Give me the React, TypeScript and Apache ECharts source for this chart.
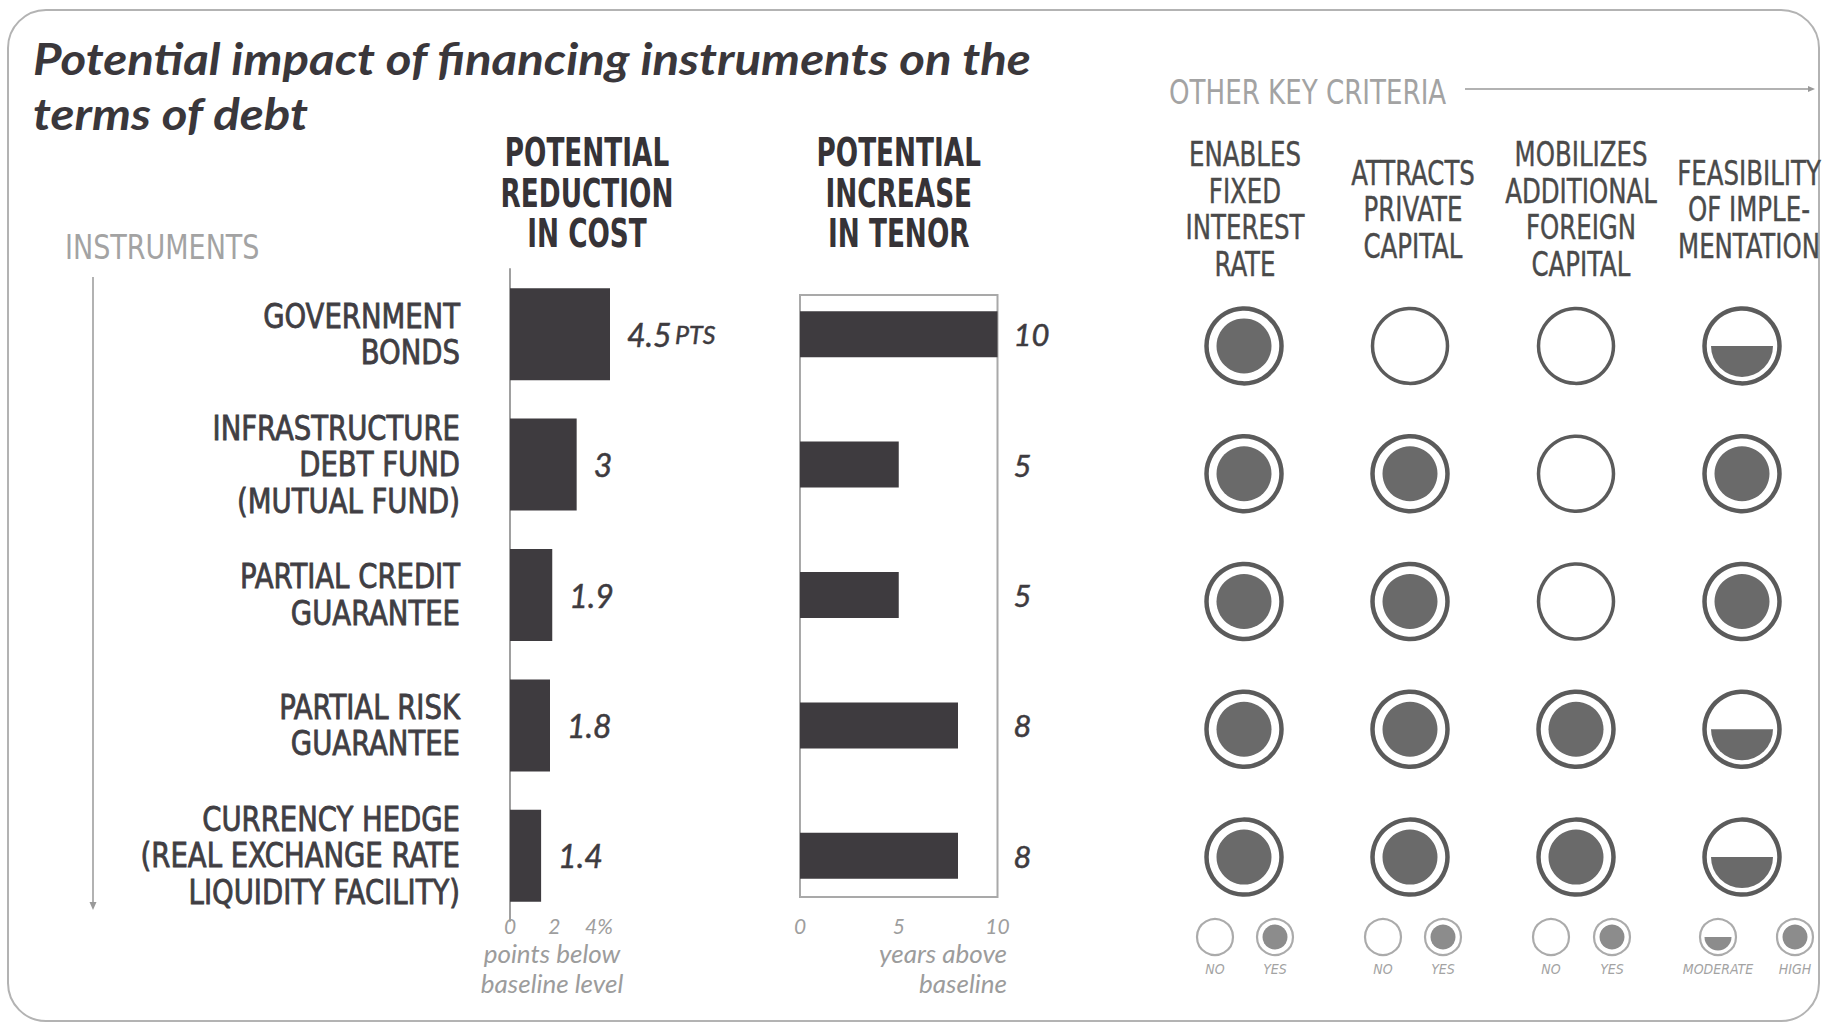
import React, { useEffect, useRef } from 'react';
import * as echarts from 'echarts';

// ---------------- data ----------------
const titleText = 'Potential impact of financing instruments on the\nterms of debt';
const instruments = [
  'GOVERNMENT\nBONDS',
  'INFRASTRUCTURE\nDEBT FUND\n(MUTUAL FUND)',
  'PARTIAL CREDIT\nGUARANTEE',
  'PARTIAL RISK\nGUARANTEE',
  'CURRENCY HEDGE\n(REAL EXCHANGE RATE\nLIQUIDITY FACILITY)',
];
const costReduction = [4.5, 3, 1.9, 1.8, 1.4];
const costUnit = 'PTS';
const tenorIncrease = [10, 5, 5, 8, 8];
const costAxisTicks = [0, 2, 4];
const costTickSuffix = '%';
const costHeader = 'POTENTIAL\nREDUCTION\nIN COST';
const tenorHeader = 'POTENTIAL\nINCREASE\nIN TENOR';
const costAxisName = 'points below\nbaseline level';
const tenorAxisName = 'years above\nbaseline';
const instrumentsLabel = 'INSTRUMENTS';
const criteriaLabel = 'OTHER KEY CRITERIA';
const criteria = [
  'ENABLES\nFIXED\nINTEREST\nRATE',
  'ATTRACTS\nPRIVATE\nCAPITAL',
  'MOBILIZES\nADDITIONAL\nFOREIGN\nCAPITAL',
  'FEASIBILITY\nOF IMPLE-\nMENTATION',
];
// 0 = no, 1 = moderate, 2 = yes / high
const fixedRate = [2, 2, 2, 2, 2];
const privateCapital = [0, 2, 2, 2, 2];
const foreignCapital = [0, 0, 0, 2, 2];
const feasibility = [1, 2, 2, 1, 1];
const legendLabels = [['NO', 'YES'], ['NO', 'YES'], ['NO', 'YES'], ['MODERATE', 'HIGH']];
const legendLevels = [[0, 2], [0, 2], [0, 2], [1, 2]];

// ---------------- layout / style ----------------
const COST = { left: 510, top: 269, width: 100, height: 652 };
const TENOR = { left: 800, top: 269, width: 197.5, height: 652 };
const CRIT = { left: 1161, top: 282, width: 672, height: 639 };
const NARROW = "'Liberation Sans Narrow', 'DejaVu Sans Condensed', 'Liberation Sans', sans-serif";
const LATO = "Lato, 'Open Sans', sans-serif";
const DARK = '#3e3b3f';
const GREY = '#9e9e9e';

function ratingShapes(cx: number, cy: number, level: number, big: boolean) {
  const ring = big ? '#5b5b5b' : '#ababab';
  const fill = big ? '#6a6a6a' : '#8c8c8c';
  const outerR = big ? 37.5 : 18;
  const lw = big ? (level === 0 ? 3.5 : 4.5) : 2.2;
  const discR = big ? 27.5 : 12.5;
  const halfR = big ? 31 : 13.5;
  const out: any[] = [
    { type: 'circle', shape: { cx, cy, r: outerR }, style: { fill: '#fff', stroke: ring, lineWidth: lw } },
  ];
  if (level === 2) out.push({ type: 'circle', shape: { cx, cy, r: discR }, style: { fill } });
  if (level === 1)
    out.push({
      type: 'sector',
      shape: { cx, cy, r0: 0, r: halfR, startAngle: 0, endAngle: Math.PI, clockwise: true },
      style: { fill },
    });
  return out;
}

function buildOption() {
  const ratingCols = [fixedRate, privateCapital, foreignCapital, feasibility];
  const ratingData = ratingCols.flatMap((col, ci) => col.map((lvl, ri) => [ci, ri, lvl]));
  const colW = CRIT.width / criteria.length;
  const colCenter = (i: number) => CRIT.left + (i + 0.5) * colW;
  const rowCenter = (i: number) => COST.top + (i + 0.5) * (COST.height / instruments.length);
  const legendOffsets = [[-30, 30], [-30, 30], [-30, 31], [-31, 46]];

  const headerStyle = {
    fontFamily: NARROW, fontWeight: 'bold', fontSize: 39, lineHeight: 40.5,
    fill: '#363337', align: 'center', verticalAlign: 'middle',
  };

  const graphics: any[] = [
    {
      type: 'rect',
      shape: { x: 8, y: 10, width: 1811, height: 1011, r: 38 },
      style: { fill: 'none', stroke: '#b3b3b3', lineWidth: 2 },
      z: -10,
    },
    {
      type: 'text',
      x: 33,
      y: 30.5,
      scaleX: 1.145,
      style: {
        text: titleText,
        fontFamily: LATO,
        fontWeight: 'bold',
        fontStyle: 'italic',
        fontSize: 43,
        lineHeight: 55,
        fill: '#3a373b',
        verticalAlign: 'top',
      },
    },
    {
      type: 'text',
      x: 65,
      y: 247,
      scaleX: 0.91,
      style: { text: instrumentsLabel, fontFamily: NARROW, fontSize: 33, fill: '#a3a3a3', verticalAlign: 'middle' },
    },
    { type: 'line', shape: { x1: 93, y1: 277, x2: 93, y2: 906 }, style: { stroke: '#999', lineWidth: 1.5 } },
    { type: 'polygon', shape: { points: [[89.5, 902], [96.5, 902], [93, 910]] }, style: { fill: '#999' } },
    {
      type: 'text',
      x: 1169,
      y: 92,
      scaleX: 0.88,
      style: { text: criteriaLabel, fontFamily: NARROW, fontSize: 33, fill: '#a3a3a3', verticalAlign: 'middle' },
    },
    { type: 'line', shape: { x1: 1465, y1: 89, x2: 1811, y2: 89 }, style: { stroke: '#999', lineWidth: 1.5 } },
    { type: 'polygon', shape: { points: [[1808, 86], [1808, 92], [1815, 89]] }, style: { fill: '#999' } },
    {
      type: 'text',
      x: COST.left + 77,
      y: 193,
      scaleX: 0.75,
      style: { text: costHeader, ...headerStyle },
    },
    {
      type: 'text',
      x: TENOR.left + TENOR.width / 2,
      y: 193,
      scaleX: 0.75,
      style: { text: tenorHeader, ...headerStyle },
    },
    {
      type: 'rect',
      shape: { x: TENOR.left, y: 295, width: TENOR.width, height: 602 },
      style: { fill: 'none', stroke: '#a9a9a9', lineWidth: 2 },
      z: 1,
    },
    {
      type: 'text',
      x: 552,
      y: 968,
      style: {
        text: costAxisName, fontFamily: LATO, fontStyle: 'italic', fontSize: 26, lineHeight: 30,
        fill: '#9c9c9c', align: 'center', verticalAlign: 'middle',
      },
    },
    {
      type: 'text',
      x: 1007,
      y: 968,
      style: {
        text: tenorAxisName, fontFamily: LATO, fontStyle: 'italic', fontSize: 26, lineHeight: 30,
        fill: '#9c9c9c', align: 'right', verticalAlign: 'middle',
      },
    },
  ];

  instruments.forEach((name, i) => {
    graphics.push({
      type: 'text',
      x: COST.left - 50,
      y: rowCenter(i),
      scaleX: 0.9,
      style: {
        text: name, fontFamily: NARROW, fontSize: 34, lineHeight: 36.5, fill: '#403e43',
        stroke: '#403e43', lineWidth: 0.8,
        align: 'right', verticalAlign: 'middle',
      },
    });
  });

  criteria.forEach((c, i) => {
    graphics.push({
      type: 'text',
      x: colCenter(i),
      y: 209,
      scaleX: 0.8,
      style: {
        text: c, fontFamily: NARROW, fontSize: 34, lineHeight: 36.5, fill: '#4a4a4a',
        stroke: '#4a4a4a', lineWidth: 0.4,
        align: 'center', verticalAlign: 'middle',
      },
    });
  });

  legendLabels.forEach((pair, i) => {
    pair.forEach((lab, j) => {
      const cx = colCenter(i) + legendOffsets[i][j];
      graphics.push({ type: 'group', children: ratingShapes(cx, 937, legendLevels[i][j], false) });
      graphics.push({
        type: 'text',
        x: cx,
        y: 969,
        style: {
          text: lab, fontFamily: NARROW, fontStyle: 'italic', fontSize: 14, fill: '#a3a3a3',
          align: 'center', verticalAlign: 'middle',
        },
      });
    });
  });

  const tickLabel = {
    margin: -6,
    fontFamily: LATO,
    fontStyle: 'italic',
    fontSize: 21,
    color: GREY,
  };

  return {
    animation: false,
    backgroundColor: '#ffffff',
    grid: [
      { ...COST, containLabel: false },
      { ...TENOR, containLabel: false },
      { ...CRIT, containLabel: false },
    ],
    xAxis: [
      {
        gridIndex: 0,
        type: 'value',
        min: 0,
        max: 4.5,
        interval: 2,
        axisLine: { show: false },
        axisTick: { show: false },
        splitLine: { show: false },
        axisLabel: {
          ...tickLabel,
          showMaxLabel: false,
          formatter: (v: number) =>
            v === costAxisTicks[costAxisTicks.length - 1] ? `${v}${costTickSuffix}` : String(v),
        },
      },
      {
        gridIndex: 1,
        type: 'value',
        min: 0,
        max: 10,
        interval: 5,
        axisLine: { show: false },
        axisTick: { show: false },
        splitLine: { show: false },
        axisLabel: { ...tickLabel },
      },
      {
        gridIndex: 2,
        type: 'category',
        data: criteria,
        show: false,
      },
    ],
    yAxis: [
      {
        gridIndex: 0,
        type: 'category',
        inverse: true,
        data: instruments,
        axisLine: { show: true, lineStyle: { color: '#a0a0a0', width: 2 } },
        axisTick: { show: false },
        axisLabel: { show: false },
      },
      {
        gridIndex: 1,
        type: 'category',
        inverse: true,
        position: 'right',
        data: instruments,
        axisLine: { show: false },
        axisTick: { show: false },
        axisLabel: {
          margin: 16,
          fontFamily: LATO,
          fontStyle: 'italic',
          fontSize: 31,
          color: DARK,
          textBorderColor: DARK,
          textBorderWidth: 0.5,
          formatter: (_v: string, i: number) => String(tenorIncrease[i]),
        },
      },
      {
        gridIndex: 2,
        type: 'category',
        inverse: true,
        data: instruments,
        show: false,
      },
    ],
    series: [
      {
        type: 'bar',
        xAxisIndex: 0,
        yAxisIndex: 0,
        data: costReduction,
        barWidth: 92,
        itemStyle: { color: DARK },
        label: {
          show: true,
          position: 'right',
          distance: 17,
          formatter: (p: any) =>
            p.dataIndex === 0 ? `{v|${p.value}} {u|${costUnit}}` : `{v|${p.value}}`,
          rich: {
            v: {
              fontFamily: LATO, fontStyle: 'italic', fontSize: 32, color: DARK,
              textBorderColor: DARK, textBorderWidth: 0.5,
            },
            u: {
              fontFamily: LATO, fontStyle: 'italic', fontSize: 25, color: DARK,
              textBorderColor: DARK, textBorderWidth: 0.5,
            },
          },
        },
        z: 3,
      },
      {
        type: 'bar',
        xAxisIndex: 1,
        yAxisIndex: 1,
        data: tenorIncrease,
        barWidth: 46,
        itemStyle: { color: DARK },
        z: 3,
      },
      {
        type: 'custom',
        xAxisIndex: 2,
        yAxisIndex: 2,
        data: ratingData,
        encode: { x: 0, y: 1 },
        clip: false,
        renderItem: (_params: any, api: any) => {
          const pt = api.coord([api.value(0), api.value(1)]);
          return { type: 'group', children: ratingShapes(pt[0], pt[1], api.value(2), true) };
        },
      },
    ],
    graphic: graphics,
  };
}

export default function App() {
  const ref = useRef<HTMLDivElement>(null);
  useEffect(() => {
    if (!ref.current) return;
    const chart = echarts.init(ref.current, null, { renderer: 'svg' });
    chart.setOption(buildOption() as any);
    return () => chart.dispose();
  }, []);
  return (
    <div
      ref={ref}
      style={{ position: 'absolute', left: 0, top: 0, width: 1825, height: 1026, background: '#fff' }}
    />
  );
}
